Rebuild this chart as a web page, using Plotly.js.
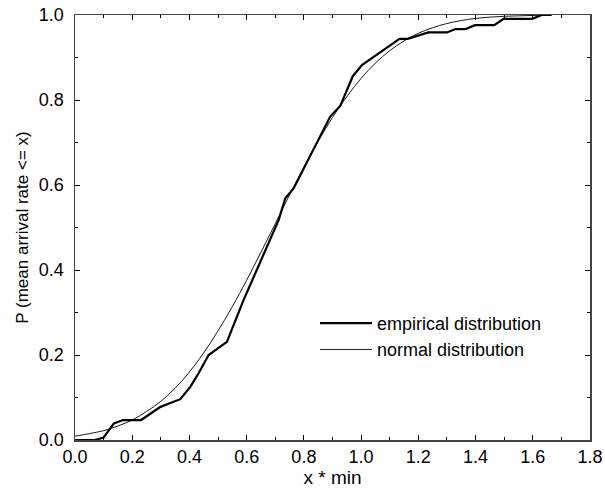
<!DOCTYPE html>
<html>
<head>
<meta charset="utf-8">
<script src="https://cdn.plot.ly/plotly-3.0.1.min.js"></script>
<style>html,body{margin:0;padding:0;background:#fff;}#chart{width:605px;height:495px;}</style>
</head>
<body>
<div id="chart"></div>
<script>
// Empirical distribution
const empX = [0, 0.07, 0.10, 0.136, 0.168, 0.231, 0.299, 0.368, 0.403, 0.432, 0.467, 0.531, 0.589, 0.654, 0.712, 0.735, 0.764, 0.892, 0.927, 0.971, 1.003, 1.134, 1.163, 1.235, 1.30, 1.33, 1.365, 1.398, 1.465, 1.498, 1.598, 1.631, 1.666];
const empP = [0, 0, 0.006, 0.039, 0.047, 0.047, 0.078, 0.096, 0.125, 0.157, 0.2, 0.231, 0.329, 0.427, 0.518, 0.569, 0.592, 0.761, 0.786, 0.856, 0.882, 0.944, 0.944, 0.959, 0.959, 0.967, 0.967, 0.976, 0.976, 0.991, 0.991, 1.0, 1.0];

// Normal distribution curve
const normX = [0, 0.05, 0.1, 0.15, 0.2, 0.25, 0.3, 0.35, 0.4, 0.45, 0.5, 0.55, 0.6, 0.65, 0.7, 0.75, 0.8, 0.85, 0.9, 0.95, 1.0, 1.05, 1.1, 1.15, 1.2, 1.25, 1.3, 1.35, 1.4, 1.45, 1.5, 1.55, 1.6, 1.65];
const normP = [0.009, 0.015, 0.022, 0.033, 0.047, 0.067, 0.091, 0.122, 0.160, 0.205, 0.257, 0.314, 0.376, 0.442, 0.509, 0.577, 0.642, 0.703, 0.759, 0.808, 0.851, 0.887, 0.916, 0.939, 0.957, 0.970, 0.980, 0.987, 0.992, 0.995, 0.997, 0.998, 0.999, 0.9994];

const seriesNames = ["empirical distribution", "normal distribution"];
const xTitle = "x * min";
const yTitle = "P (mean arrival rate <= x)";

const FONT = "Liberation Sans, Arial, sans-serif";

const traces = [
  {x: empX, y: empP, mode: "lines", name: seriesNames[0], line: {color: "#000", width: 2.2}},
  {x: normX, y: normP, mode: "lines", name: seriesNames[1], line: {color: "#000", width: 0.9, shape: "spline", smoothing: 1}}
];

const axisCommon = {
  showgrid: false, zeroline: false, showline: true, linecolor: "#444", linewidth: 1.5,
  mirror: "ticks", ticks: "inside", ticklen: 5, tickwidth: 1, tickcolor: "#000",
  tickformat: ".1f", tickfont: {family: FONT, size: 18, color: "#000"},
  minor: {ticks: "inside", ticklen: 3, tickwidth: 1, tickcolor: "#000"}
};

const layout = {
  width: 605, height: 495,
  margin: {l: 75, r: 15, t: 15, b: 55},
  paper_bgcolor: "#fff", plot_bgcolor: "#fff",
  font: {family: FONT, size: 18, color: "#000"},
  showlegend: true,
  legend: {x: 0.466, y: 0.318, xanchor: "left", yanchor: "top", bgcolor: "rgba(0,0,0,0)",
           font: {family: FONT, size: 18, color: "#000"}, itemwidth: 52, tracegroupgap: 0},
  xaxis: Object.assign({}, axisCommon, {
    range: [0, 1.8], dtick: 0.2, tick0: 0,
    minor: Object.assign({}, axisCommon.minor, {dtick: 0.1}),
    title: {text: xTitle, font: {family: FONT, size: 19}, standoff: 2}
  }),
  yaxis: Object.assign({}, axisCommon, {
    range: [0, 1.0], dtick: 0.2, tick0: 0,
    ticklabelstandoff: 6,
    minor: Object.assign({}, axisCommon.minor, {dtick: 0.1}),
    title: {text: yTitle, font: {family: FONT, size: 17}, standoff: 6}
  })
};

Plotly.newPlot("chart", traces, layout, {displayModeBar: false, staticPlot: true});
</script>
</body>
</html>
